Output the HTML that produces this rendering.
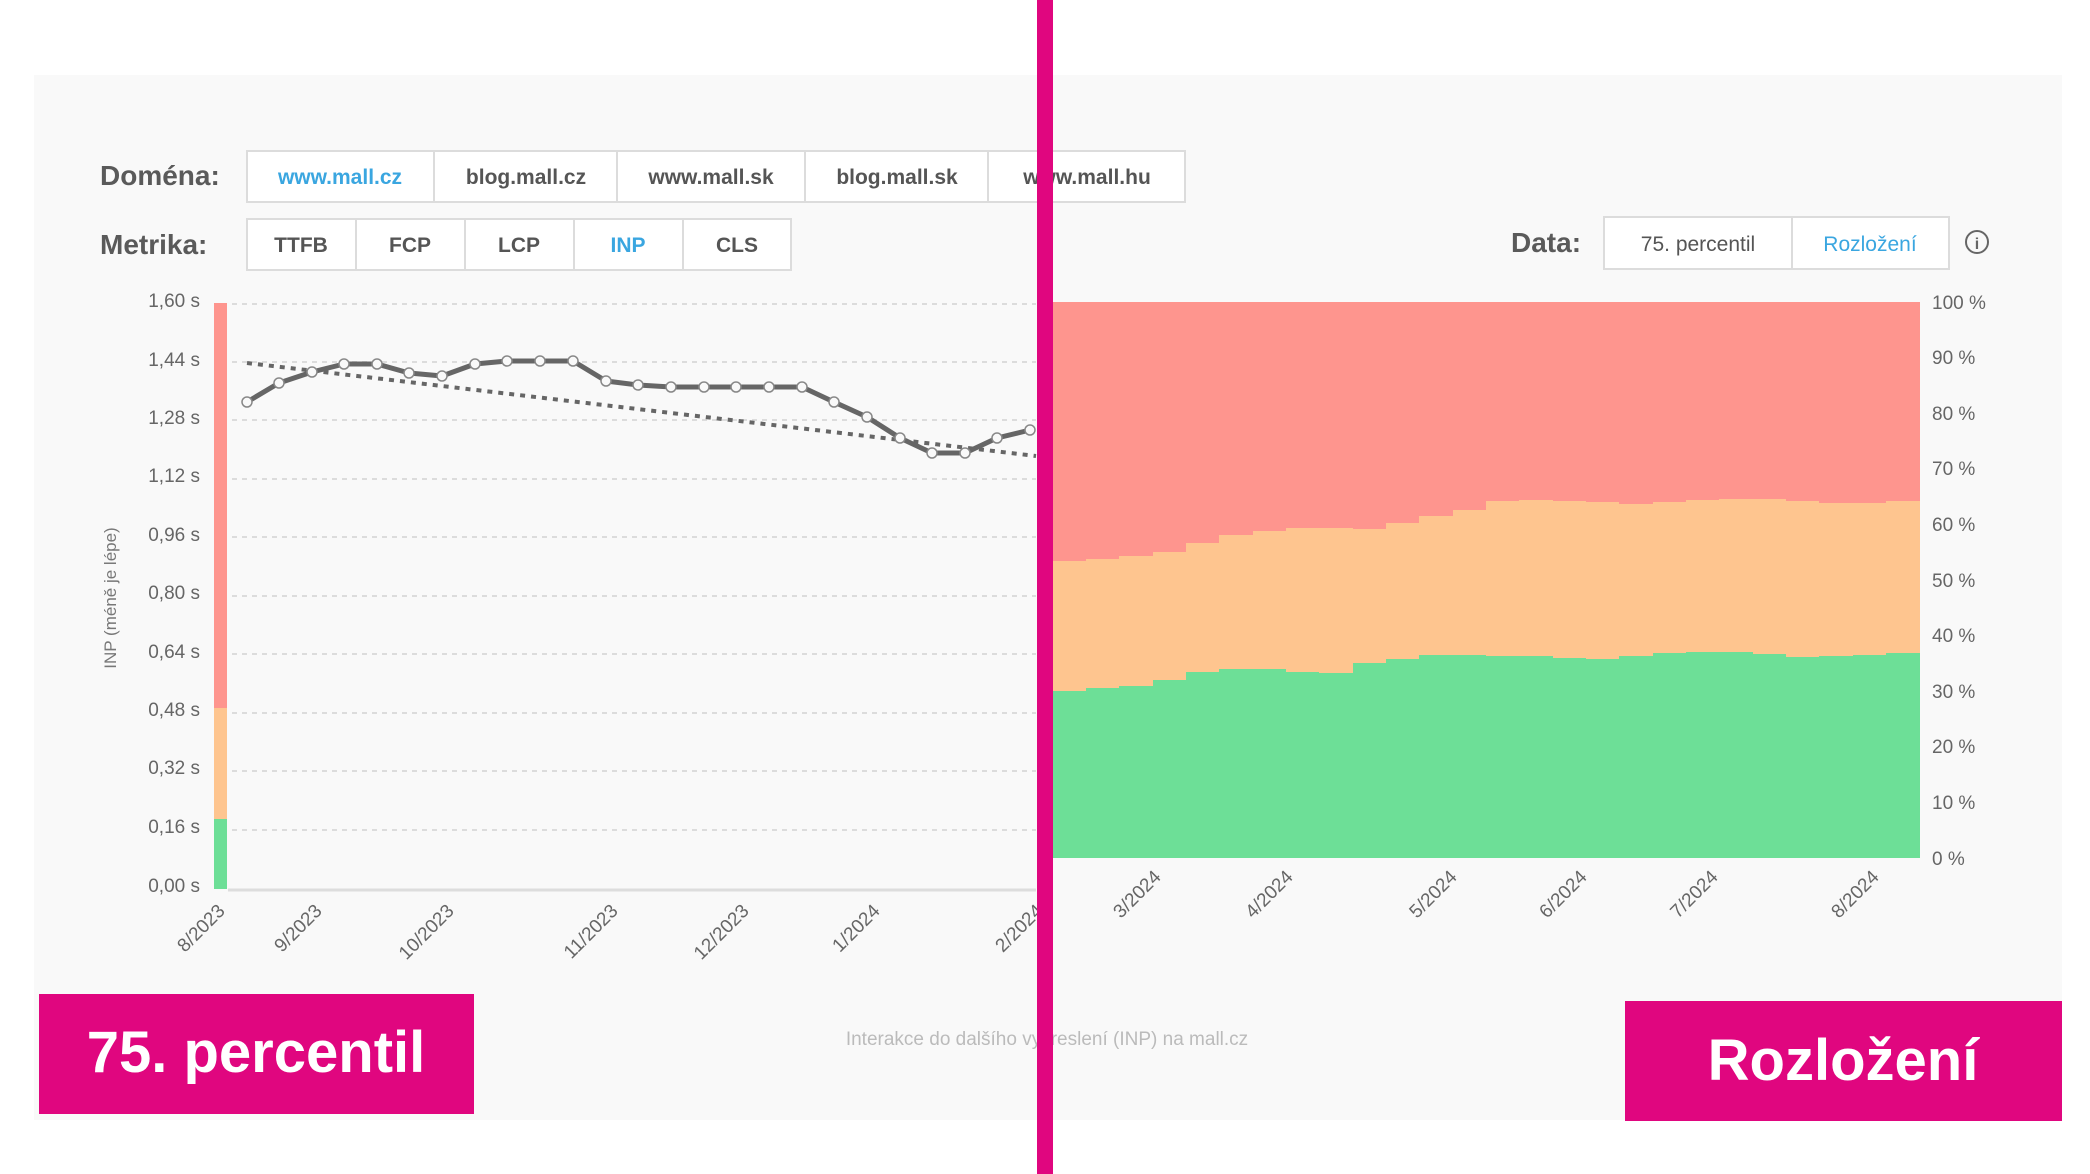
<!DOCTYPE html>
<html><head><meta charset="utf-8"><style>
html,body{margin:0;padding:0;background:#fff;}
svg{display:block;font-family:"Liberation Sans",sans-serif;}
</style></head><body>
<svg width="2090" height="1174" viewBox="0 0 2090 1174" xmlns="http://www.w3.org/2000/svg">
<rect x="34" y="75" width="2028" height="1045" fill="#f9f9f9"/>
<!-- Domena -->
<text x="100" y="185" font-size="28" font-weight="bold" fill="#5a5a5a">Doména:</text>
<g stroke="#dcdcdc" stroke-width="2" fill="#fff">
<rect x="247" y="151" width="938" height="51"/>
<line x1="434" y1="151" x2="434" y2="202"/><line x1="617" y1="151" x2="617" y2="202"/>
<line x1="805" y1="151" x2="805" y2="202"/><line x1="988" y1="151" x2="988" y2="202"/>
</g>
<g font-size="21" font-weight="bold" text-anchor="middle" fill="#555">
<text x="340" y="184" fill="#3aa6e0">www.mall.cz</text>
<text x="526" y="184">blog.mall.cz</text>
<text x="711" y="184">www.mall.sk</text>
<text x="897" y="184">blog.mall.sk</text>
<text x="1087" y="184">www.mall.hu</text>
</g>
<!-- Metrika -->
<text x="100" y="254" font-size="28" font-weight="bold" fill="#5a5a5a">Metrika:</text>
<g stroke="#dcdcdc" stroke-width="2" fill="#fff">
<rect x="247" y="219" width="544" height="51"/>
<line x1="356" y1="219" x2="356" y2="270"/><line x1="465" y1="219" x2="465" y2="270"/>
<line x1="574" y1="219" x2="574" y2="270"/><line x1="683" y1="219" x2="683" y2="270"/>
</g>
<g font-size="21" font-weight="bold" text-anchor="middle" fill="#555">
<text x="301" y="252">TTFB</text><text x="410" y="252">FCP</text><text x="519" y="252">LCP</text>
<text x="628" y="252" fill="#3aa6e0">INP</text><text x="737" y="252">CLS</text>
</g>
<!-- Data -->
<text x="1511" y="252" font-size="28" font-weight="bold" fill="#5a5a5a">Data:</text>
<g stroke="#dcdcdc" stroke-width="2" fill="#fff">
<rect x="1604" y="217" width="345" height="52"/><line x1="1792" y1="217" x2="1792" y2="269"/>
</g>
<text x="1698" y="251" font-size="21" text-anchor="middle" fill="#555">75. percentil</text>
<text x="1870" y="251" font-size="21" text-anchor="middle" fill="#3aa6e0">Rozložení</text>
<circle cx="1977" cy="242" r="11" fill="none" stroke="#666" stroke-width="2"/>
<text x="1977" y="249" font-size="16" text-anchor="middle" fill="#666" font-weight="bold">i</text>
<!-- left chart grid -->
<g stroke="#dcdcdc" stroke-width="2" stroke-dasharray="5,5">
<line x1="232" y1="304" x2="1036" y2="304"/><line x1="232" y1="362" x2="1036" y2="362"/>
<line x1="232" y1="420" x2="1036" y2="420"/><line x1="232" y1="479" x2="1036" y2="479"/>
<line x1="232" y1="537" x2="1036" y2="537"/><line x1="232" y1="596" x2="1036" y2="596"/>
<line x1="232" y1="654" x2="1036" y2="654"/><line x1="232" y1="713" x2="1036" y2="713"/>
<line x1="232" y1="771" x2="1036" y2="771"/><line x1="232" y1="830" x2="1036" y2="830"/>
</g>
<line x1="228" y1="890" x2="1036" y2="890" stroke="#ddd" stroke-width="3"/>
<g font-size="19" fill="#666" text-anchor="end">
<text x="200" y="307">1,60 s</text><text x="200" y="366">1,44 s</text><text x="200" y="424">1,28 s</text>
<text x="200" y="482">1,12 s</text><text x="200" y="541">0,96 s</text><text x="200" y="599">0,80 s</text>
<text x="200" y="658">0,64 s</text><text x="200" y="716">0,48 s</text><text x="200" y="774">0,32 s</text>
<text x="200" y="833">0,16 s</text><text x="200" y="892">0,00 s</text>
</g>
<text transform="translate(116,598) rotate(-90)" font-size="17" fill="#777" text-anchor="middle">INP (méně je lépe)</text>
<rect x="214" y="303" width="13" height="405" fill="#fe958e"/>
<rect x="214" y="708" width="13" height="111" fill="#fec58f"/>
<rect x="214" y="819" width="13" height="70" fill="#6ddf97"/>
<!-- trend -->
<line x1="247" y1="363" x2="1036" y2="456" stroke="#666" stroke-width="4" stroke-dasharray="5,6"/>
<polyline fill="none" stroke="#666" stroke-width="5" stroke-linejoin="round" points="247,402 279,383 312,372 344,364 377,364 409,373 442,376 475,364 507,361 540,361 573,361 606,381 638,385 671,387 704,387 736,387 769,387 802,387 834,402 867,417 900,438 932,453 965,453 997,438 1030,430"/>
<g fill="#f9f9f9" stroke="#888" stroke-width="1.5">
<circle cx="247" cy="402" r="5"/><circle cx="279" cy="383" r="5"/><circle cx="312" cy="372" r="5"/><circle cx="344" cy="364" r="5"/><circle cx="377" cy="364" r="5"/><circle cx="409" cy="373" r="5"/><circle cx="442" cy="376" r="5"/><circle cx="475" cy="364" r="5"/><circle cx="507" cy="361" r="5"/><circle cx="540" cy="361" r="5"/><circle cx="573" cy="361" r="5"/><circle cx="606" cy="381" r="5"/><circle cx="638" cy="385" r="5"/><circle cx="671" cy="387" r="5"/><circle cx="704" cy="387" r="5"/><circle cx="736" cy="387" r="5"/><circle cx="769" cy="387" r="5"/><circle cx="802" cy="387" r="5"/><circle cx="834" cy="402" r="5"/><circle cx="867" cy="417" r="5"/><circle cx="900" cy="438" r="5"/><circle cx="932" cy="453" r="5"/><circle cx="965" cy="453" r="5"/><circle cx="997" cy="438" r="5"/><circle cx="1030" cy="430" r="5"/>
</g>
<!-- right stacked -->
<rect x="1053" y="302" width="867" height="556" fill="#fe958e"/>
<path fill="#fec58f" d="M1053,858 L1053,561 L1086,561 L1086,559 L1119,559 L1119,556 L1153,556 L1153,552 L1186,552 L1186,543 L1219,543 L1219,535 L1253,535 L1253,531 L1286,531 L1286,528 L1319,528 L1319,528 L1353,528 L1353,529 L1386,529 L1386,523 L1419,523 L1419,516 L1453,516 L1453,510 L1486,510 L1486,501 L1519,501 L1519,500 L1553,500 L1553,501 L1586,501 L1586,502 L1619,502 L1619,504 L1653,504 L1653,502 L1686,502 L1686,500 L1719,500 L1719,499 L1753,499 L1753,499 L1786,499 L1786,501 L1819,501 L1819,503 L1853,503 L1853,503 L1886,503 L1886,501 L1920,501 L1920,858 Z"/>
<path fill="#6ddf97" d="M1053,858 L1053,691 L1086,691 L1086,688 L1119,688 L1119,686 L1153,686 L1153,680 L1186,680 L1186,672 L1219,672 L1219,669 L1253,669 L1253,669 L1286,669 L1286,672 L1319,672 L1319,673 L1353,673 L1353,663 L1386,663 L1386,659 L1419,659 L1419,655 L1453,655 L1453,655 L1486,655 L1486,656 L1519,656 L1519,656 L1553,656 L1553,658 L1586,658 L1586,659 L1619,659 L1619,656 L1653,656 L1653,653 L1686,653 L1686,652 L1719,652 L1719,652 L1753,652 L1753,654 L1786,654 L1786,657 L1819,657 L1819,656 L1853,656 L1853,655 L1886,655 L1886,653 L1920,653 L1920,858 Z"/>
<g font-size="19" fill="#666">
<text x="1932" y="309">100 %</text><text x="1932" y="364">90 %</text><text x="1932" y="420">80 %</text>
<text x="1932" y="475">70 %</text><text x="1932" y="531">60 %</text><text x="1932" y="587">50 %</text>
<text x="1932" y="642">40 %</text><text x="1932" y="698">30 %</text><text x="1932" y="753">20 %</text>
<text x="1932" y="809">10 %</text><text x="1932" y="865">0 %</text>
</g>
<!-- x labels -->
<g font-size="19" fill="#666" text-anchor="end">
<text transform="translate(226,912) rotate(-45)">8/2023</text>
<text transform="translate(323,912) rotate(-45)">9/2023</text>
<text transform="translate(455,912) rotate(-45)">10/2023</text>
<text transform="translate(619,912) rotate(-45)">11/2023</text>
<text transform="translate(750,912) rotate(-45)">12/2023</text>
<text transform="translate(881,912) rotate(-45)">1/2024</text>
<text transform="translate(1044,912) rotate(-45)">2/2024</text>
<text transform="translate(1162,878) rotate(-45)">3/2024</text>
<text transform="translate(1294,878) rotate(-45)">4/2024</text>
<text transform="translate(1458,878) rotate(-45)">5/2024</text>
<text transform="translate(1588,878) rotate(-45)">6/2024</text>
<text transform="translate(1719,878) rotate(-45)">7/2024</text>
<text transform="translate(1880,878) rotate(-45)">8/2024</text>
</g>
<text x="1047" y="1045" font-size="19" fill="#bbb" text-anchor="middle">Interakce do dalšího vykreslení (INP) na mall.cz</text>
<!-- overlays -->
<rect x="1037" y="0" width="16" height="1174" fill="#e0067f"/>
<rect x="39" y="994" width="435" height="120" fill="#e0067f"/>
<text x="256" y="1072" font-size="58" font-weight="bold" fill="#fff" text-anchor="middle">75. percentil</text>
<rect x="1625" y="1001" width="437" height="120" fill="#e0067f"/>
<text x="1843" y="1080" font-size="58" font-weight="bold" fill="#fff" text-anchor="middle">Rozložení</text>
</svg>
</body></html>
